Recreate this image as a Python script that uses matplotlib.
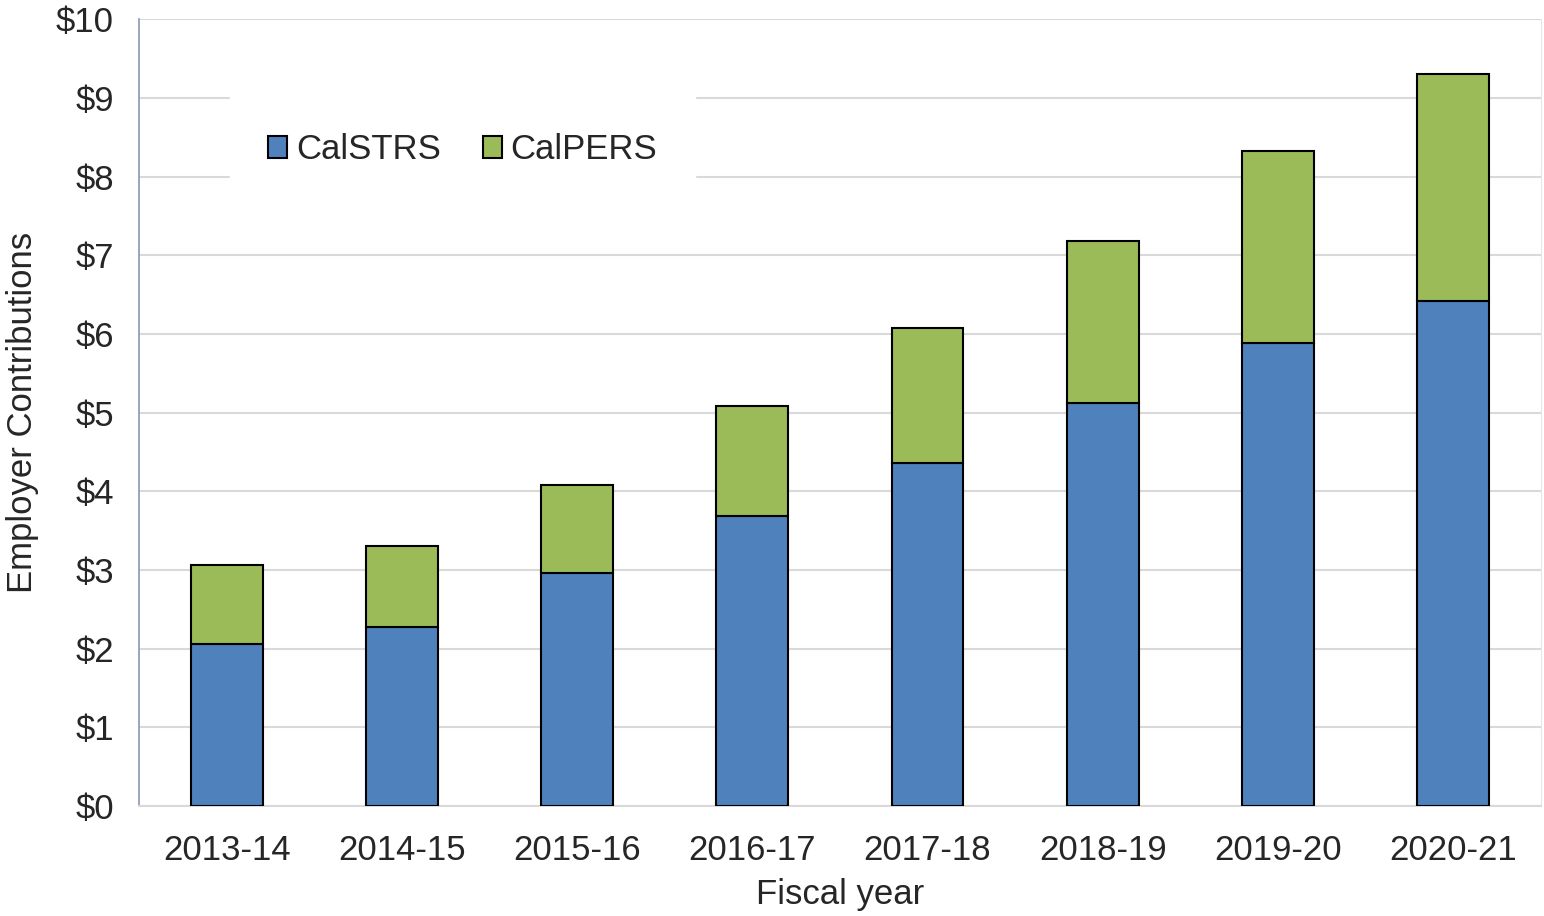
import matplotlib.pyplot as plt
import numpy as np

years = ["2013-14", "2014-15", "2015-16", "2016-17", "2017-18", "2018-19", "2019-20", "2020-21"]
calstrs = [2.06, 2.27, 2.96, 3.69, 4.36, 5.12, 5.88, 6.42]
calpers = [1.01, 1.03, 1.12, 1.40, 1.71, 2.06, 2.44, 2.88]

plt.rcParams['font.family'] = ['Liberation Sans', 'DejaVu Sans']

fig = plt.figure(figsize=(15.44, 9.16), dpi=100)
ax = fig.add_axes([0.090, 0.120, 0.908, 0.859])

x = np.arange(len(years))
w = 0.41
ax.bar(x, calstrs, w, color="#4F81BD", edgecolor="black", linewidth=1.5, label="CalSTRS", zorder=3)
ax.bar(x, calpers, w, bottom=calstrs, color="#9BBB59", edgecolor="black", linewidth=1.5, label="CalPERS", zorder=3)

ax.set_xlim(-0.5, len(years) - 0.5)
ax.set_ylim(0, 10)
ax.set_yticks(range(0, 11))
ax.set_yticklabels(["$%d" % v for v in range(0, 11)])
ax.set_xticks(x)
ax.set_xticklabels(years)
ax.tick_params(axis="both", length=0, labelsize=25, colors="#262626")
ax.tick_params(axis="y", pad=18)
ax.tick_params(axis="x", pad=20)
ax.yaxis.grid(True, color="#d9d9d9", linewidth=1.5, zorder=0)
ax.set_axisbelow(True)

ax.spines["left"].set_color("#8a96b4")
ax.spines["left"].set_linewidth(1.2)
ax.spines["bottom"].set_color("#d9d9d9")
ax.spines["bottom"].set_linewidth(1.5)
ax.spines["top"].set_visible(False)
ax.spines["right"].set_color("#e6e6e6")

ax.set_ylabel("Employer Contributions", fontsize=25, color="#262626")
ax.yaxis.set_label_coords(-0.071, 0.5)
ax.set_xlabel("Fiscal year", fontsize=25, color="#262626", labelpad=8)

leg = ax.legend(loc="center", bbox_to_anchor=(0.231, 0.834), ncol=2, fontsize=25,
                frameon=True, fancybox=False, edgecolor="white", facecolor="white", framealpha=1,
                handlelength=0.55, handleheight=0.6, handletextpad=0.25, columnspacing=1.2,
                borderpad=1.1)
for t in leg.get_texts():
    t.set_color("#262626")

fig.savefig("out.png", dpi=100)
